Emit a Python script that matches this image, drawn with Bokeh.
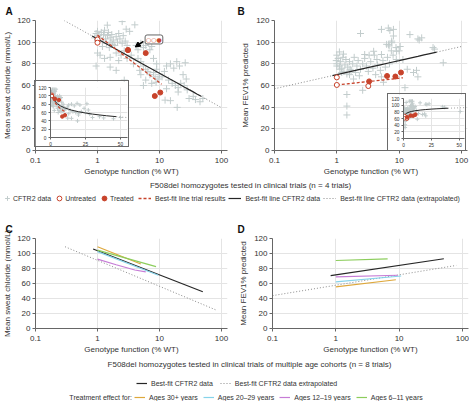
from bokeh.plotting import figure
from bokeh.models import (Range1d, FixedTicker, CustomJSTickFormatter, Legend, LegendItem,
                          Label, Arrow, NormalHead, GridBox, Column)
from bokeh.embed import file_html
from bokeh.resources import INLINE

# ------------------------------------------------------------------ data
genotype_ticks = [0.1, 1, 10, 100]
value_ticks = [0, 20, 40, 60, 80, 100, 120]
inset_x_ticks = [0, 25, 50]

# CFTR2 data: genotype function (% WT) vs mean sweat chloride
cftr2_cl_x = [1.44, 2.5, 3.3, 4.0, 2.9,
              0.95, 1.0, 1.05, 1.1, 1.15, 1.2, 1.25, 1.3, 1.35, 1.4, 1.45, 1.5, 1.6, 1.65, 1.7,
              1.8, 1.9, 2.0, 2.1, 2.2, 0.9, 1.0, 1.2, 1.55, 1.75, 2.3, 2.5, 2.6, 2.8, 3.0,
              1.0, 0.95, 1.1, 1.3, 1.6, 1.6, 2.0, 2.2, 2.4, 2.7, 3.0, 3.5, 3.8, 2.0, 2.7,
              4.2, 4.5, 5.0, 5.5, 6.0, 6.5, 7.0, 7.5, 4.5, 5.0, 5.5, 6.0, 6.5, 7.0, 8.0, 8.5,
              9.0, 9.5, 10, 8.0, 9.0, 5.0, 6.0, 7.5, 5.5, 4.8, 8.8,
              11, 12, 13, 15, 17, 19, 21, 14, 16, 18, 20, 22, 25, 28, 20, 13, 24, 27, 26,
              12.3, 19.3, 15, 30, 38, 45, 50, 35]
cftr2_cl_y = [115.7, 119, 110, 116, 112,
              108, 110, 106, 104, 109, 101, 107, 111, 103, 99, 106, 109, 104, 100, 107,
              102, 97, 105, 100, 108, 104, 101, 96, 95, 98, 103, 99, 106, 101, 97,
              90, 78, 88, 85, 86, 77, 90, 83, 88, 92, 85, 88, 80, 74, 65,
              97, 93, 99, 95, 97, 100, 93, 96, 85, 82, 78, 75, 73, 70, 72, 68,
              75, 66, 70, 85, 80, 70, 65, 62, 60, 74, 63,
              68, 73, 78, 80, 76, 82, 78, 65, 62, 60, 58, 62, 60, 56, 54, 57, 70, 66, 81,
              46.5, 39.8, 46, 48, 47, 45, 48, 50]

# CFTR2 data: genotype function (% WT) vs mean FEV1 % predicted
cftr2_fev_x = [1.0, 0.98, 1.28, 1.0, 1.12, 1.63, 1.45, 1.85, 2.4, 1.45, 1.45, 1.45, 2.6, 2.8,
               3.9, 4.4, 5.2, 6.8, 7.1, 8.1, 8.1, 7.6, 10.4, 9.1, 11.5, 14.9, 21, 23, 35, 19,
               20, 51, 12.4, 5.6,
               1.0, 1.05, 1.1, 1.15, 1.2, 1.25, 1.3, 1.35, 1.4, 1.5, 1.6, 1.7, 1.8, 1.9, 2.0,
               2.1, 2.2, 2.4, 2.6, 2.8, 3.0, 3.2, 3.5, 3.8, 4.0, 4.5, 5.0, 5.5, 6.0, 6.5, 7,
               7.5, 8, 9, 10, 1.1, 1.2, 1.6, 2.3, 3.3, 4.2, 5.2,
               5.2, 6.7, 6.3, 6.9, 7.6, 8.9, 20, 37, 13.5, 17]
cftr2_fev_y = [88, 83, 89, 78, 75, 75, 70.6, 66, 108, 51.7, 41, 32.8, 55.6, 88.6,
               91.6, 84, 88.6, 97.7, 110.8, 111.8, 105.7, 101, 96, 91.6, 84, 107, 102, 104, 95, 74,
               68, 81, 58, 63,
               80, 85, 78, 82, 76, 86, 73, 79, 84, 77, 82, 74, 80, 86, 72,
               78, 83, 75, 80, 85, 78, 73, 82, 76, 88, 79, 74, 83, 77, 86, 80,
               92, 88, 84, 92, 91, 72, 70, 69, 88, 70, 68,
               111.8, 113, 98, 96.5, 99.5, 95, 103, 93.6, 75, 72]

# Trials (F508del homozygotes): untreated and treated results
untreated_cl_x = [1.0, 1.0, 3.1]
untreated_cl_y = [102.5, 99.5, 92.7]
treated_cl_x = [3.1, 6.0, 8.4, 10.3]
treated_cl_y = [92.7, 89.9, 50.3, 53.5]
untreated_fev_x = [1.0, 1.0, 3.2]
untreated_fev_y = [67.5, 60.5, 59.5]
treated_fev_x = [3.3, 6.4, 8.7, 10.7]
treated_fev_y = [63.8, 68.8, 68.3, 72.0]

# Best-fit lines
cl_fit_x = [0.82, 1, 1.5, 2, 3, 4, 5, 7, 10, 15, 20, 25, 30, 35, 40, 47]
cl_fit_y = [105.7, 103.0, 97.4, 93.5, 87.9, 83.9, 80.8, 76.2, 71.3, 65.7, 61.8, 58.7, 56.2, 54.1, 52.2, 50.0]
cl_ext_lo_x = [0.29, 0.82]
cl_ext_lo_y = [120.0, 105.7]
cl_ext_hi_x = [47, 55, 70, 100]
cl_ext_hi_y = [50.0, 47.8, 44.5, 39.6]

fev_fit_x = [0.85, 1, 1.5, 2, 3, 5, 7, 10, 15, 20, 25, 30, 40]
fev_fit_y = [69.1, 70.0, 72.3, 73.9, 76.2, 79.1, 81.0, 83.0, 85.3, 86.9, 88.2, 89.2, 90.8]
fev_ext_lo_x = [0.1, 0.85]
fev_ext_lo_y = [57.0, 69.1]
fev_ext_hi_x = [40, 55, 70, 100]
fev_ext_hi_y = [90.8, 92.6, 94.0, 96.0]

trial_cl_x = [1, 1.5, 2, 3, 4, 5, 7, 9, 10.8]
trial_cl_y = [106.5, 98.8, 93.3, 85.6, 80.1, 75.9, 69.5, 64.7, 61.2]
trial_fev_x = [1, 1.5, 2, 3, 4, 5, 7, 9, 11.5]
trial_fev_y = [60.5, 61.6, 62.4, 63.5, 64.2, 64.8, 65.7, 66.4, 67.1]

# Panel C (sweat chloride, age cohorts)
c_fit_x = [0.85, 50]
c_fit_y = [106.0, 49.0]
c_ext_x = [0.3, 80]
c_ext_y = [109.0, 25.0]
c_age30_x = [1, 5]
c_age30_y = [109, 86]
c_age20_x = [1, 9.6]
c_age20_y = [102.5, 71]
c_age12_x = [1, 2, 4, 6]
c_age12_y = [92.5, 85, 78, 75.5]
c_age6_x = [1, 8.8]
c_age6_y = [104.5, 82.5]

# Panel D (FEV1, age cohorts)
d_fit_x = [0.83, 51]
d_fit_y = [70.5, 93.0]
d_ext_x = [0.1, 80]
d_ext_y = [43.8, 84.1]
d_age30_x = [1, 8.9]
d_age30_y = [55.6, 65.0]
d_age20_x = [1, 10.8]
d_age20_y = [62.2, 70.0]
d_age12_x = [1, 9.5]
d_age12_y = [68.8, 71.0]
d_age6_x = [1, 6.6]
d_age6_y = [90.7, 92.9]

title_top = "F508del homozygotes tested in clinical trials (n = 4 trials)"
title_bottom = "F508del homozygotes tested in clinical trials of multiple age cohorts (n = 8 trials)"

# ------------------------------------------------------------------ style
FONT = "Liberation Sans"
GRAY_PT = "#c2cccc"
RED = "#c8432b"
FIT = "#262626"
EXT = "#8a8a8a"
AXIS = "#666666"
TXT = "#333333"
GRID = "#e4e4e4"
ORANGE = "#dea83c"
CYAN = "#86d3ea"
PURPLE = "#c67cd6"
GREEN = "#8ccd5c"
DOT = "1 2"
DASH = "3 2"
NAN = float("nan")


def style_axes(p, tick_size, label_size, tick_out, x_std, x_lab_std, y_std, y_lab_std):
    for ax in p.axis:
        ax.axis_line_color = AXIS
        ax.axis_line_width = 1
        ax.major_tick_line_color = AXIS
        ax.major_tick_out = tick_out
        ax.major_tick_in = 0
        ax.minor_tick_line_color = None
        ax.major_label_text_font = FONT
        ax.major_label_text_font_size = tick_size
        ax.major_label_text_color = TXT
        ax.axis_label_text_font = FONT
        ax.axis_label_text_font_size = label_size
        ax.axis_label_text_font_style = "normal"
        ax.axis_label_text_color = TXT
    p.xaxis.major_label_standoff = x_std
    p.xaxis.axis_label_standoff = x_lab_std
    p.yaxis.major_label_standoff = y_std
    p.yaxis.axis_label_standoff = y_lab_std
    p.grid.grid_line_color = GRID


def main_panel(letter, ylabel, width, height, left, right, top, bottom, pos, ylab_std, title_std):
    p = figure(width=width, height=height, x_axis_type="log",
               x_range=Range1d(0.1, 125), y_range=Range1d(0, 120),
               toolbar_location=None, output_backend="svg",
               min_border_left=left, min_border_right=right,
               min_border_top=top, min_border_bottom=bottom,
               outline_line_color=None, title=letter)
    p.margin = (pos[0], 0, 0, pos[1])
    p.align = "start"
    p.title.text_font = FONT
    p.title.text_font_size = "10px"
    p.title.text_font_style = "bold"
    p.title.text_color = "#111111"
    p.title.align = "left"
    p.title.offset = -left + 2
    p.title.standoff = title_std
    p.xaxis.ticker = FixedTicker(ticks=genotype_ticks)
    p.xaxis.formatter = CustomJSTickFormatter(code="return String(tick);")
    p.yaxis.ticker = FixedTicker(ticks=value_ticks)
    p.xaxis.axis_label = "Genotype function (% WT)"
    p.yaxis.axis_label = ylabel
    style_axes(p, "8px", "8px", 3, 4, 1, 2, ylab_std)
    return p


def inset_panel(width, height, left, right, top, bottom, xmax, pos):
    p = figure(width=width, height=height, x_range=Range1d(0, xmax), y_range=Range1d(0, 120),
               toolbar_location=None, output_backend="svg", title=None,
               min_border_left=left, min_border_right=right,
               min_border_top=top, min_border_bottom=bottom,
               outline_line_color=None, background_fill_color="white",
               border_fill_color="white",
               styles={"border": "1px solid #6a6a6a"})
    p.margin = (pos[0], 0, 0, pos[1])
    p.align = "start"
    p.xaxis.ticker = FixedTicker(ticks=inset_x_ticks)
    p.yaxis.ticker = FixedTicker(ticks=value_ticks)
    style_axes(p, "4.8px", "5px", 2, 2, 0, 2, 0)
    return p


def blank(width, height, pos):
    p = figure(width=width, height=height, x_range=Range1d(0, width), y_range=Range1d(0, height),
               toolbar_location=None, output_backend="svg", min_border=0, title=None,
               x_axis_location=None, y_axis_location=None, outline_line_color=None,
               background_fill_alpha=0, border_fill_alpha=0)
    p.grid.visible = False
    p.margin = (pos[0], 0, 0, pos[1])
    p.align = "start"
    return p


def draw_trial_panel(p, cx, cy, fx, fy, lo_x, lo_y, hi_x, hi_y, tx, ty, ux, uy, trx, tr_y,
                     cross, dot, lw):
    p.scatter(cx, cy, marker="cross", size=cross, line_color=GRAY_PT, line_width=1)
    p.line(lo_x, lo_y, line_color=EXT, line_dash=DOT, line_width=lw)
    p.line(hi_x, hi_y, line_color=EXT, line_dash=DOT, line_width=lw)
    p.line(fx, fy, line_color=FIT, line_width=lw + 0.2)
    p.line(tx, ty, line_color=RED, line_dash=DASH, line_width=lw + 0.3)
    p.scatter(ux, uy, marker="circle", size=dot, line_color=RED, fill_color="white", line_width=1)
    p.scatter(trx, tr_y, marker="circle", size=dot, line_color=RED, fill_color=RED)


# ------------------------------------------------------------------ panel A
pA = main_panel("A", "Mean sweat chloride (mmol/L)", 235, 178, 32, 8, 19, 27, (0, 0), 2, 7)
draw_trial_panel(pA, cftr2_cl_x, cftr2_cl_y, cl_fit_x, cl_fit_y, cl_ext_lo_x, cl_ext_lo_y,
                 cl_ext_hi_x, cl_ext_hi_y, trial_cl_x, trial_cl_y, untreated_cl_x, untreated_cl_y,
                 treated_cl_x, treated_cl_y, 7, 5, 1)
pA.add_layout(Label(x=5.86, y=102.5, text="○○●", text_font="DejaVu Sans", text_font_size="6px",
                    text_color=RED, text_baseline="middle", text_align="left",
                    border_line_color="#666666", border_line_width=1,
                    background_fill_color="white", padding=1, border_radius=2))
pA.add_layout(Arrow(end=NormalHead(size=5, fill_color="black", line_color="black"),
                    x_start=5.5, y_start=100.8, x_end=4.06, y_end=95.6,
                    line_color="black", line_width=1.5))

insetA = inset_panel(95, 67, 15, 3, 6, 11, 55, (80, 34))
draw_trial_panel(insetA, cftr2_cl_x, cftr2_cl_y, cl_fit_x, cl_fit_y, cl_ext_lo_x, cl_ext_lo_y,
                 cl_ext_hi_x, cl_ext_hi_y, trial_cl_x, trial_cl_y, untreated_cl_x, untreated_cl_y,
                 treated_cl_x, treated_cl_y, 4, 3.5, 0.8)

# ------------------------------------------------------------------ panel B
pB = main_panel("B", "Mean FEV1% predicted", 234, 178, 39, 2, 19, 27, (0, 235), 3, 7)
draw_trial_panel(pB, cftr2_fev_x, cftr2_fev_y, fev_fit_x, fev_fit_y, fev_ext_lo_x, fev_ext_lo_y,
                 fev_ext_hi_x, fev_ext_hi_y, trial_fev_x, trial_fev_y, untreated_fev_x,
                 untreated_fev_y, treated_fev_x, treated_fev_y, 7, 5, 1)
insetB = inset_panel(79, 58, 14, 3, 4, 14, 54.8, (93, 387))
draw_trial_panel(insetB, cftr2_fev_x, cftr2_fev_y, fev_fit_x, fev_fit_y, fev_ext_lo_x, fev_ext_lo_y,
                 fev_ext_hi_x, fev_ext_hi_y, trial_fev_x, trial_fev_y, untreated_fev_x,
                 untreated_fev_y, treated_fev_x, treated_fev_y, 4, 3.5, 0.8)

# ------------------------------------------------------------------ panels C, D
pC = main_panel("C", "Mean sweat chloride (mmol/L)", 235, 151, 32, 8, 33, 27, (205, 0), 2, 8)
pC.line(c_ext_x, c_ext_y, line_color=EXT, line_dash=DOT, line_width=1)
pC.line(c_fit_x, c_fit_y, line_color=FIT, line_width=1.2)
pC.line(c_age30_x, c_age30_y, line_color=ORANGE, line_width=1.2)
pC.line(c_age20_x, c_age20_y, line_color=CYAN, line_width=1.2)
pC.line(c_age12_x, c_age12_y, line_color=PURPLE, line_width=1.2)
pC.line(c_age6_x, c_age6_y, line_color=GREEN, line_width=1.2)

pD = main_panel("D", "Mean FEV1% predicted", 234, 151, 37, 1, 33, 27, (205, 235), 3, 8)
pD.line(d_ext_x, d_ext_y, line_color=EXT, line_dash=DOT, line_width=1)
pD.line(d_fit_x, d_fit_y, line_color=FIT, line_width=1.2)
pD.line(d_age30_x, d_age30_y, line_color=ORANGE, line_width=1.2)
pD.line(d_age20_x, d_age20_y, line_color=CYAN, line_width=1.2)
pD.line(d_age12_x, d_age12_y, line_color=PURPLE, line_width=1.2)
pD.line(d_age6_x, d_age6_y, line_color=GREEN, line_width=1.2)

# ------------------------------------------------------------------ legend block 1
leg1 = blank(469, 27, (178, 0))
leg1.add_layout(Label(x=250, y=20, text=title_top, text_font=FONT, text_font_size="8px",
                      text_color=TXT, text_align="center", text_baseline="middle"))
r_cross = leg1.scatter([NAN], [NAN], marker="cross", line_color=GRAY_PT, line_width=1)
r_open = leg1.scatter([NAN], [NAN], marker="circle", line_color=RED, fill_color="white")
r_fill = leg1.scatter([NAN], [NAN], marker="circle", line_color=RED, fill_color=RED)
r_trial = leg1.line([NAN, NAN], [NAN, NAN], line_color=RED, line_dash=DASH, line_width=1.3)
r_fit = leg1.line([NAN, NAN], [NAN, NAN], line_color=FIT, line_width=1.2)
r_ext = leg1.line([NAN, NAN], [NAN, NAN], line_color=EXT, line_dash=DOT, line_width=1)

common = dict(orientation="horizontal", border_line_color=None, background_fill_alpha=0,
              padding=0, margin=0, label_text_font=FONT, label_text_font_size="7px",
              label_text_color=TXT, label_height=12, glyph_height=12)
legA = Legend(items=[LegendItem(label="CFTR2 data", renderers=[r_cross]),
                     LegendItem(label="Untreated", renderers=[r_open]),
                     LegendItem(label="Treated", renderers=[r_fill])],
              location=(1, 1), glyph_width=12, label_standoff=0, spacing=2, **common)
legB = Legend(items=[LegendItem(label="Best-fit line trial results", renderers=[r_trial]),
                     LegendItem(label="Best-fit line CFTR2 data", renderers=[r_fit]),
                     LegendItem(label="Best-fit line CFTR2 data (extrapolated)", renderers=[r_ext])],
              location=(138, 1), glyph_width=13, label_standoff=4, spacing=3, **common)
leg1.add_layout(legA)
leg1.add_layout(legB)

# ------------------------------------------------------------------ legend block 2
leg2 = blank(469, 45, (356, 0))
leg2.add_layout(Label(x=249, y=37, text=title_bottom, text_font=FONT, text_font_size="8px",
                      text_color=TXT, text_align="center", text_baseline="middle"))
leg2.add_layout(Label(x=131.5, y=4, text="Treatment effect for:", text_font=FONT,
                      text_font_size="7px", text_color=TXT, text_align="right",
                      text_baseline="middle"))
s_fit = leg2.line([NAN, NAN], [NAN, NAN], line_color=FIT, line_width=1.2)
s_ext = leg2.line([NAN, NAN], [NAN, NAN], line_color=EXT, line_dash=DOT, line_width=1)
s30 = leg2.line([NAN, NAN], [NAN, NAN], line_color=ORANGE, line_width=1.2)
s20 = leg2.line([NAN, NAN], [NAN, NAN], line_color=CYAN, line_width=1.2)
s12 = leg2.line([NAN, NAN], [NAN, NAN], line_color=PURPLE, line_width=1.2)
s6 = leg2.line([NAN, NAN], [NAN, NAN], line_color=GREEN, line_width=1.2)
common2 = dict(common)
common2.update(label_height=8, glyph_height=8)
legC = Legend(items=[LegendItem(label="Best-fit CFTR2 data", renderers=[s_fit]),
                     LegendItem(label="Best-fit CFTR2 data extrapolated", renderers=[s_ext])],
              location=(136, 14), glyph_width=11, label_standoff=4, spacing=7, **common2)
legD = Legend(items=[LegendItem(label="Ages 30+ years", renderers=[s30]),
                     LegendItem(label="Ages 20–29 years", renderers=[s20]),
                     LegendItem(label="Ages 12–19 years", renderers=[s12]),
                     LegendItem(label="Ages 6–11 years", renderers=[s6])],
              location=(134, 0), glyph_width=11, label_standoff=4, spacing=5, **common2)
leg2.add_layout(legC)
leg2.add_layout(legD)


def wrap(item):
    # own container, so that the frames of overlapping figures are not aligned together
    return Column(children=[item])


layout = GridBox(children=[(wrap(pA), 0, 0), (wrap(pB), 0, 0), (wrap(pC), 0, 0), (wrap(pD), 0, 0),
                           (wrap(leg1), 0, 0), (wrap(leg2), 0, 0),
                           (wrap(insetA), 0, 0), (wrap(insetB), 0, 0)])

open("out.html", "w").write(file_html(layout, INLINE))
